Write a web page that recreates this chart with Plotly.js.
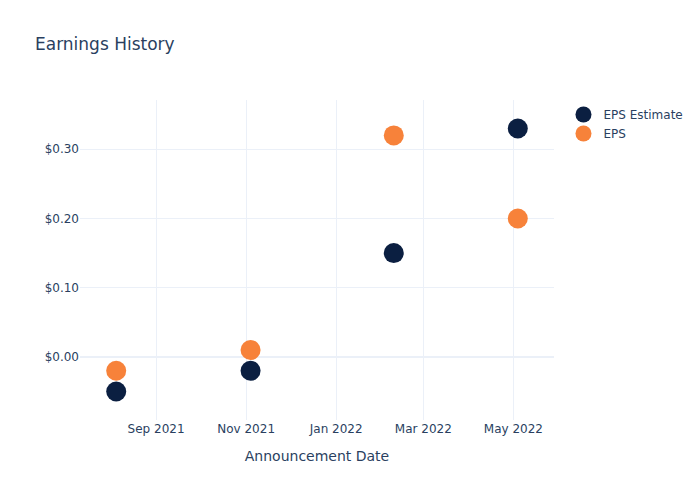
<!DOCTYPE html>
<html>
<head>
<meta charset="utf-8">
<script src="https://cdn.plot.ly/plotly-3.0.1.min.js"></script>
<style>body{margin:0;padding:0;}</style>
</head>
<body>
<div id="chart" style="width:700px;height:500px;"></div>
<script>
const dates = ["2021-08-05", "2021-11-04", "2022-02-09", "2022-05-04"];
const epsEstimate = [-0.05, -0.02, 0.15, 0.33];
const epsActual = [-0.02, 0.01, 0.32, 0.20];
const seriesNames = ["EPS Estimate", "EPS"];
const colors = ["#0b1f41", "#f7823a"];

const traces = [
  {x: dates, y: epsEstimate, name: seriesNames[0], type: "scatter", mode: "markers",
   marker: {color: colors[0], size: 20}},
  {x: dates, y: epsActual, name: seriesNames[1], type: "scatter", mode: "markers",
   marker: {color: colors[1], size: 20}}
];

const layout = {
  width: 700, height: 500,
  paper_bgcolor: "white", plot_bgcolor: "white",
  font: {family: "'DejaVu Sans', verdana, arial, sans-serif", color: "#2a3f5f", size: 12},
  title: {text: "Earnings History", x: 0.05, font: {size: 17}},
  xaxis: {
    title: {text: "Announcement Date", font: {size: 14}, standoff: 16},
    gridcolor: "#EBF0F8", showline: false, zerolinecolor: "#EBF0F8",
    ticks: ""
  },
  yaxis: {
    tickprefix: "$", tickformat: ".2f",
    gridcolor: "#EBF0F8", showline: false, zerolinecolor: "#EBF0F8", zerolinewidth: 2,
    ticks: ""
  },
  legend: {font: {size: 12}},
  hovermode: "closest"
};

Plotly.newPlot("chart", traces, layout, {displayModeBar: false});
</script>
</body>
</html>
